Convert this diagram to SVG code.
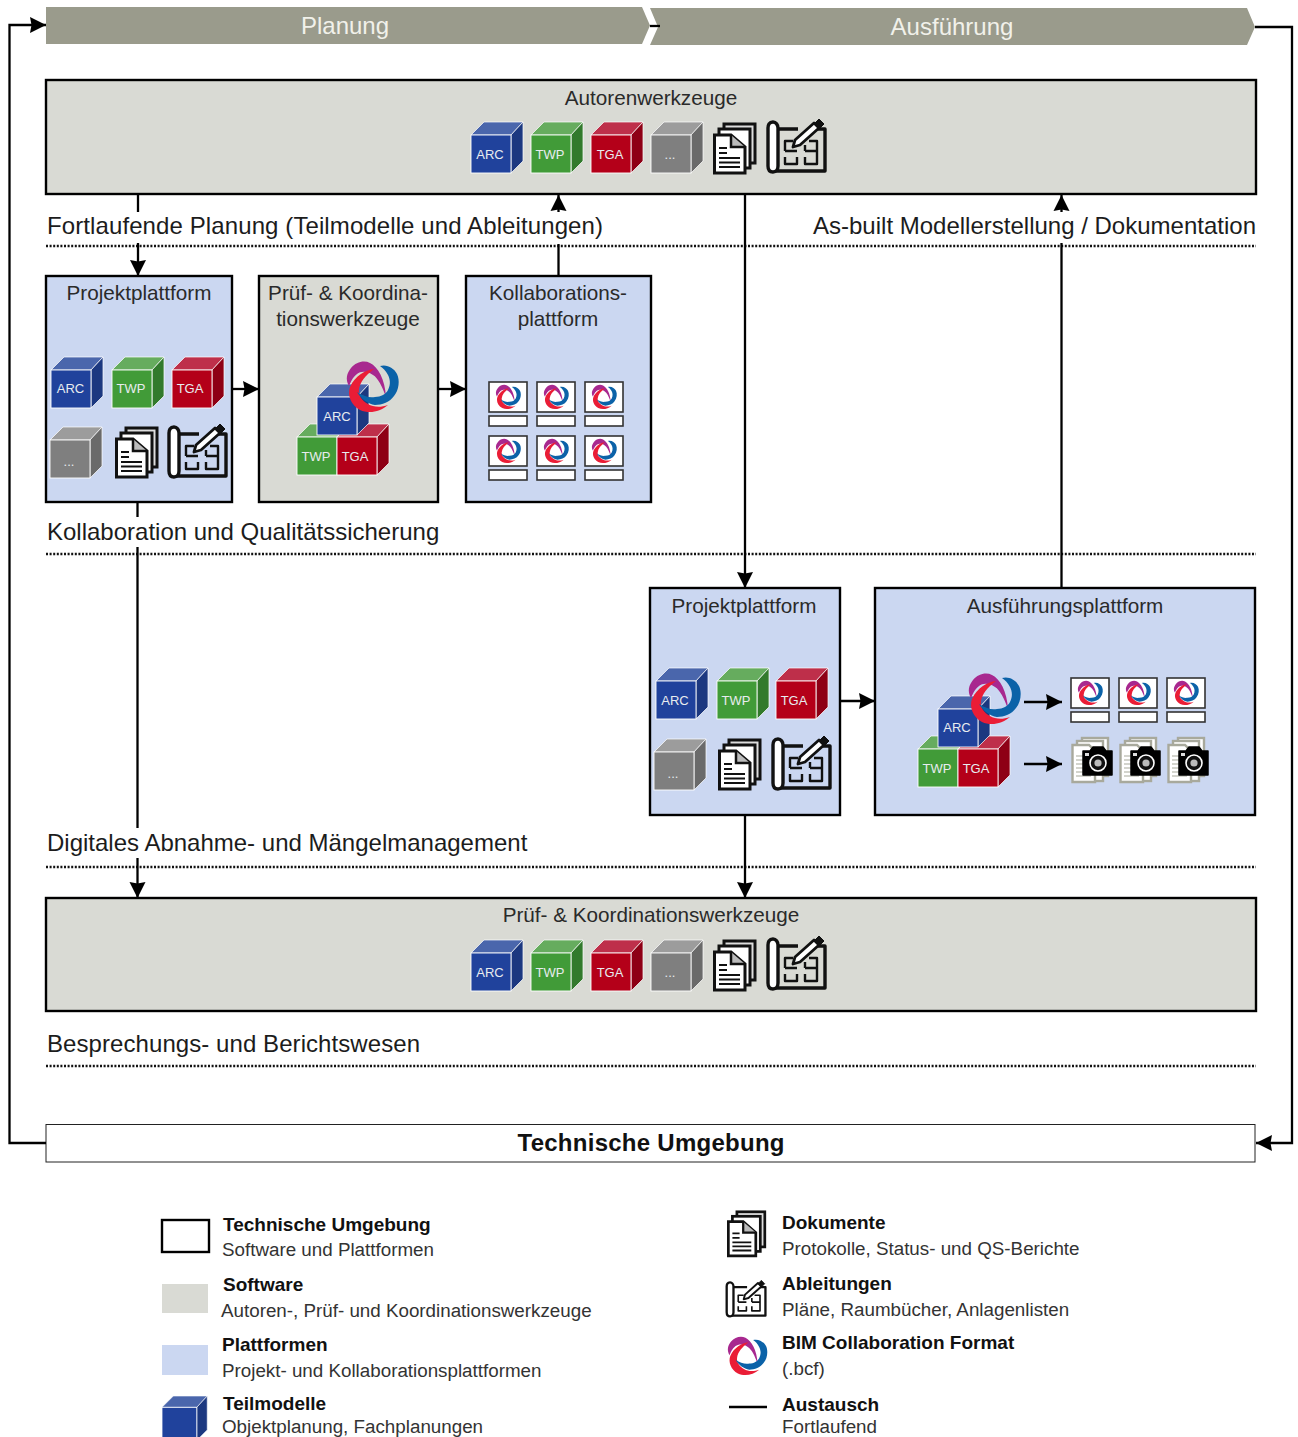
<svg xmlns="http://www.w3.org/2000/svg" width="1298" height="1437" viewBox="0 0 1298 1437">
<style>
text{font-family:"Liberation Sans",Arial,sans-serif;fill:#1c1c1c}
.h{font-size:24px}
.t{font-size:20.7px;fill:#2a2a2a}
.c{text-anchor:middle}
.cube{font-size:13px;fill:#e8ecef;text-anchor:middle}
.soft{fill:#D9DAD4;stroke:#000;stroke-width:2.4}
.plat{fill:#CBD7F1;stroke:#000;stroke-width:2.4}
.dot{stroke:#111;stroke-width:2.6;stroke-dasharray:2 1.6;fill:none}
.lb{font-size:19px;font-weight:bold;fill:#111}
.ls{font-size:18.8px;fill:#333}
.con line,.con path{stroke:#000;stroke-width:2.3;fill:none}
.thumb{fill:#fff;stroke:#333;stroke-width:1.6}
</style>
<defs>
<marker id="a" markerUnits="userSpaceOnUse" markerWidth="18" markerHeight="18" refX="16" refY="9" orient="auto"><path d="M0,1L16,9L0,17L1.500,9Z" fill="#000" stroke="none"/></marker>
<g id="cb"><path d="M0,13L13,0H52L40,13Z" fill="#4A66AC" stroke="#fff" stroke-width=".7"/><path d="M40,13L52,0V39L40,51Z" fill="#1C3880" stroke="#fff" stroke-width=".7"/><rect y="13" width="40" height="38" fill="#20429C" stroke="#fff" stroke-width=".9"/></g>
<g id="cg"><path d="M0,13L13,0H52L40,13Z" fill="#66AC5E" stroke="#fff" stroke-width=".7"/><path d="M40,13L52,0V39L40,51Z" fill="#327A2C" stroke="#fff" stroke-width=".7"/><rect y="13" width="40" height="38" fill="#419B38" stroke="#fff" stroke-width=".9"/></g>
<g id="cr"><path d="M0,13L13,0H52L40,13Z" fill="#BE2F4A" stroke="#fff" stroke-width=".7"/><path d="M40,13L52,0V39L40,51Z" fill="#8E0015" stroke="#fff" stroke-width=".7"/><rect y="13" width="40" height="38" fill="#B40019" stroke="#fff" stroke-width=".9"/></g>
<g id="cy"><path d="M0,13L13,0H52L40,13Z" fill="#9C9C9C" stroke="#fff" stroke-width=".7"/><path d="M40,13L52,0V39L40,51Z" fill="#6A6A6A" stroke="#fff" stroke-width=".7"/><rect y="13" width="40" height="38" fill="#7F7F7F" stroke="#fff" stroke-width=".9"/></g>
<g id="doc" fill="#fff" stroke="#111" stroke-width="3"><rect x="11" y="2" width="31" height="39" fill="#ddd"/><rect x="6" y="7" width="31" height="39"/><path d="M1.500,13H18L32,25V51H1.500Z"/><path d="M18,13V25H32" fill="#bbb" stroke-width="2.500"/><path d="M6,26H14M6,31H14M6,36H27M6,40.500H27M6,45H27" stroke-width="2" fill="none"/></g>
<g id="plan" fill="none" stroke="#111" stroke-linejoin="round"><path d="M11,9H31M44,9H58V51H6" stroke-width="3.400"/><path d="M6,2C2,2 1,5 1,8V46C1,50 3,52 6,52C9,52 11,50 11,46V8C11,5 9,2 6,2Z" fill="#fff" stroke-width="3.400"/><path d="M18,31V21H26M18,31H30M18,37V44H30V37M38,37V44H50V21H42M38,31H50M38,31V25" stroke-width="2.400"/><path d="M26,27L28,20L47,3L52,8L33,25Z" fill="#fff" stroke-width="2.800"/><path d="M47,4L52,-1L57,4L52,9Z" fill="#111" stroke-width="1"/></g>
<g id="bcf"><path d="M-23,-1C-27,-8 -25,-14 -21,-19C-16,-25 -8,-27 -2,-24C6,-20 13,-8 14,10C10,-1 6,-9 1,-12C-5,-16 -11,-16 -15,-13C-20,-9 -21,-5 -23,-1Z" fill="#A8288F"/><path d="M2,-18C-7,-17 -17,-11 -22,0C-25,8 -21,18 -12,23C-3,27 8,25 16,18C8,21 1,20 -4,17C-10,14 -14,8 -13,2C-12,-5 -7,-11 2,-18Z" fill="#EA1D36"/><path d="M8,-21C15,-23 22,-19 25,-13C28,-7 27,3 22,9C18,15 10,18 3,18C-4,17 -11,12 -15,5C-9,9 -3,11 3,10C9,10 14,7 16,3C19,-3 18,-8 16,-12C14,-16 11,-19 8,-21Z" fill="#0B62A8"/></g>
<g id="thumb"><rect class="thumb" width="38" height="30"/><rect class="thumb" y="34" width="38" height="10"/><use href="#bcf" transform="translate(19,15) scale(.48)"/></g>
<g id="photo"><g fill="#fff" stroke="#A8A99C" stroke-width="2.400"><rect x="11" y="1" width="26" height="38"/><rect x="6" y="4" width="26" height="40"/><path d="M1.500,8H18L24,14V45H1.500Z"/></g><path d="M5,19H20M5,23H20M5,27H20M5,31H20M5,35H20M5,39H20" stroke="#A8A99C" stroke-width="1.200"/><path d="M12,14H19L22,10H32L35,14H41V38H12Z" fill="#000" stroke="#000" stroke-width="1.500" stroke-linejoin="round"/><circle cx="27" cy="26" r="8" fill="#111" stroke="#fff" stroke-width="1.600"/><circle cx="27" cy="26" r="3.600" fill="#bbb"/><rect x="14" y="16" width="4" height="3" fill="#ddd"/></g>
</defs>

<g id="phase-planung"><path d="M46,7H642L650,25.500L642,44H46Z" fill="#9A9B8C"/><text x="345" y="34" class="h c" style="fill:#F1F1EA">Planung</text></g>
<g id="phase-ausfuehrung"><path d="M650,8H1247L1255,27L1247,45H650L658,27Z" fill="#9A9B8C"/><text x="952" y="35" class="h c" style="fill:#F1F1EA">Ausführung</text></g>

<g id="phase-labels">
<text x="47" y="234" class="h" textLength="556">Fortlaufende Planung (Teilmodelle und Ableitungen)</text>
<text x="813" y="234" class="h" textLength="443">As-built Modellerstellung / Dokumentation</text>
<text x="47" y="540" class="h">Kollaboration und Qualitätssicherung</text>
<text x="47" y="851" class="h">Digitales Abnahme- und Mängelmanagement</text>
<text x="47" y="1052" class="h" textLength="373">Besprechungs- und Berichtswesen</text>
<path class="dot" d="M46,246H1256M46,554H1256M46,867H1256M46,1066H1256"/>
</g>

<g id="autorenwerkzeuge"><rect class="soft" x="46" y="80" width="1210" height="114"/><text x="651" y="105" class="t c">Autorenwerkzeuge</text>
<use href="#cb" x="471" y="122"/><text x="490" y="159" class="cube">ARC</text><use href="#cg" x="531" y="122"/><text x="550" y="159" class="cube">TWP</text><use href="#cr" x="591" y="122"/><text x="610" y="159" class="cube">TGA</text><use href="#cy" x="651" y="122"/><text x="670" y="159" class="cube">...</text><use href="#doc" x="713" y="122"/><use href="#plan" x="767" y="120"/></g>

<g id="projektplattform-1"><rect class="plat" x="46" y="276" width="186" height="226"/><text x="139" y="300" class="t c">Projektplattform</text>
<use href="#cb" x="51" y="357"/><text x="70.500" y="393" class="cube">ARC</text><use href="#cg" x="112" y="357"/><text x="131" y="393" class="cube">TWP</text><use href="#cr" x="172" y="357"/><text x="190" y="393" class="cube">TGA</text><use href="#cy" x="50" y="427"/><text x="69" y="466" class="cube">...</text><use href="#doc" x="115" y="426"/><use href="#plan" x="168" y="425"/></g>

<g id="pruefwerkzeuge-1"><rect class="soft" x="259" y="276" width="179" height="226"/><text x="348" y="300" class="t c">Prüf- &amp; Koordina-</text><text x="348" y="326" class="t c">tionswerkzeuge</text>
<use href="#cg" x="297" y="424"/><use href="#cr" x="337" y="424"/><use href="#cb" x="317" y="384"/><text x="337" y="421" class="cube">ARC</text><text x="316" y="461" class="cube">TWP</text><text x="355" y="461" class="cube">TGA</text><use href="#bcf" x="372" y="387"/></g>

<g id="kollaborationsplattform"><rect class="plat" x="466" y="276" width="185" height="226"/><text x="558" y="300" class="t c">Kollaborations-</text><text x="558" y="326" class="t c">plattform</text>
<use href="#thumb" x="489" y="382"/><use href="#thumb" x="537" y="382"/><use href="#thumb" x="585" y="382"/><use href="#thumb" x="489" y="436"/><use href="#thumb" x="537" y="436"/><use href="#thumb" x="585" y="436"/></g>

<g id="projektplattform-2"><rect class="plat" x="650" y="588" width="190" height="227"/><text x="744" y="613" class="t c">Projektplattform</text>
<use href="#cb" x="656" y="668"/><text x="675" y="705" class="cube">ARC</text><use href="#cg" x="717" y="668"/><text x="736" y="705" class="cube">TWP</text><use href="#cr" x="776" y="668"/><text x="794" y="705" class="cube">TGA</text><use href="#cy" x="654" y="739"/><text x="673" y="778" class="cube">...</text><use href="#doc" x="718" y="738"/><use href="#plan" x="772" y="737"/></g>

<g id="ausfuehrungsplattform"><rect class="plat" x="875" y="588" width="380" height="227"/><text x="1065" y="613" class="t c">Ausführungsplattform</text>
<use href="#cg" x="918" y="736"/><use href="#cr" x="958" y="736"/><use href="#cb" x="938" y="696"/><text x="957" y="732" class="cube">ARC</text><text x="937" y="773" class="cube">TWP</text><text x="976" y="773" class="cube">TGA</text><use href="#bcf" x="994" y="699"/>
<use href="#thumb" x="1071" y="678"/><use href="#thumb" x="1119" y="678"/><use href="#thumb" x="1167" y="678"/><use href="#photo" x="1071" y="737"/><use href="#photo" x="1119" y="737"/><use href="#photo" x="1167" y="737"/></g>

<g id="pruefwerkzeuge-2"><rect class="soft" x="46" y="898" width="1210" height="113"/><text x="651" y="922" class="t c">Prüf- &amp; Koordinationswerkzeuge</text>
<use href="#cb" x="471" y="940"/><text x="490" y="977" class="cube">ARC</text><use href="#cg" x="531" y="940"/><text x="550" y="977" class="cube">TWP</text><use href="#cr" x="591" y="940"/><text x="610" y="977" class="cube">TGA</text><use href="#cy" x="651" y="940"/><text x="670" y="977" class="cube">...</text><use href="#doc" x="713" y="939"/><use href="#plan" x="767" y="937"/></g>

<g id="technische-umgebung"><rect x="46" y="1124.500" width="1209" height="37.500" fill="#fff" stroke="#222" stroke-width="1"/><text x="651" y="1151" class="c" style="font-size:24px;font-weight:bold;fill:#111" textLength="267">Technische Umgebung</text></g>

<g id="connectors" class="con">
<line x1="650" y1="26" x2="660" y2="26"/>
<path d="M46,1143H9.500V25H46" marker-end="url(#a)"/>
<path d="M1255,27H1292V1143H1256" marker-end="url(#a)"/>
<line x1="138" y1="194" x2="138" y2="212"/><line x1="138" y1="243" x2="138" y2="276" marker-end="url(#a)"/>
<line x1="558.500" y1="276" x2="558.500" y2="244"/><line x1="558.500" y1="212" x2="558.500" y2="195" marker-end="url(#a)"/>
<line x1="1061.500" y1="588" x2="1061.500" y2="243"/><line x1="1061.500" y1="212" x2="1061.500" y2="195" marker-end="url(#a)"/>
<line x1="745" y1="194" x2="745" y2="588" marker-end="url(#a)"/>
<line x1="745" y1="815" x2="745" y2="898" marker-end="url(#a)"/>
<line x1="137.500" y1="502" x2="137.500" y2="517"/><line x1="137.500" y1="547" x2="137.500" y2="828"/><line x1="137.500" y1="858" x2="137.500" y2="898" marker-end="url(#a)"/>
<line x1="232" y1="389" x2="259" y2="389" marker-end="url(#a)"/>
<line x1="438" y1="389" x2="466" y2="389" marker-end="url(#a)"/>
<line x1="840" y1="701" x2="875" y2="701" marker-end="url(#a)"/>
<line x1="1024" y1="702" x2="1062" y2="702" marker-end="url(#a)"/>
<line x1="1024" y1="764" x2="1062" y2="764" marker-end="url(#a)"/>
</g>

<g id="legend">
<rect x="162" y="1220" width="47" height="32" fill="#fff" stroke="#000" stroke-width="2.400"/>
<text x="223" y="1231" class="lb">Technische Umgebung</text><text x="222" y="1256" class="ls">Software und Plattformen</text>
<rect x="162" y="1284" width="46" height="29" fill="#D9DAD4"/>
<text x="223" y="1291" class="lb">Software</text><text x="221" y="1317" class="ls">Autoren-, Prüf- und Koordinationswerkzeuge</text>
<rect x="162" y="1345" width="46" height="30" fill="#CBD7F1"/>
<text x="222" y="1351" class="lb">Plattformen</text><text x="222" y="1377" class="ls">Projekt- und Kollaborationsplattformen</text>
<use href="#cb" transform="translate(162,1396) scale(.87)"/>
<text x="223" y="1410" class="lb">Teilmodelle</text><text x="222" y="1432.500" class="ls">Objektplanung, Fachplanungen</text>
<use href="#doc" transform="translate(727,1210) scale(.9)"/>
<text x="782" y="1229" class="lb">Dokumente</text><text x="782" y="1255" class="ls">Protokolle, Status- und QS-Berichte</text>
<use href="#plan" transform="translate(726,1281) scale(.68)"/>
<text x="782" y="1290" class="lb">Ableitungen</text><text x="782" y="1316" class="ls">Pläne, Raumbücher, Anlagenlisten</text>
<use href="#bcf" transform="translate(747,1356) scale(.76)"/>
<text x="782" y="1349" class="lb">BIM Collaboration Format</text><text x="782" y="1375" class="ls">(.bcf)</text>
<line x1="729" y1="1407" x2="767" y2="1407" stroke="#000" stroke-width="2.300"/>
<text x="782" y="1411" class="lb">Austausch</text><text x="782" y="1432.500" class="ls">Fortlaufend</text>
</g>
</svg>
